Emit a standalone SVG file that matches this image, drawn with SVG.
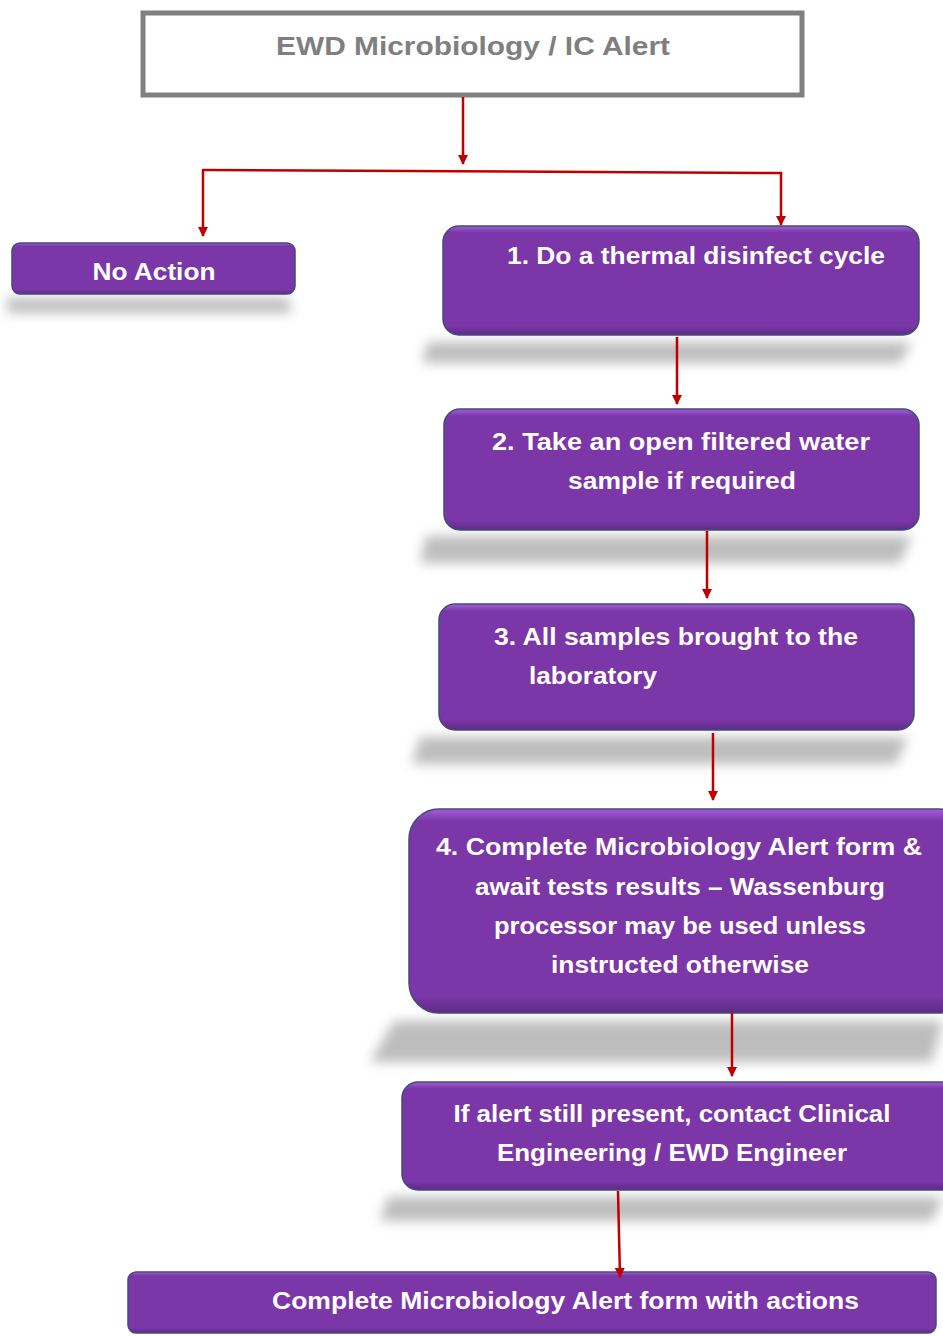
<svg xmlns="http://www.w3.org/2000/svg" width="943" height="1336" viewBox="0 0 943 1336">
<defs>
  <linearGradient id="pg" x1="0" y1="0" x2="0" y2="1">
    <stop offset="0" stop-color="#a35fd6"/>
    <stop offset="0.06" stop-color="#7b36a8"/>
    <stop offset="0.92" stop-color="#7b36a8"/>
    <stop offset="1" stop-color="#5e2a86"/>
  </linearGradient>
  <filter id="blur" x="-20%" y="-200%" width="140%" height="500%">
    <feGaussianBlur stdDeviation="6"/>
  </filter>
  <marker id="ah" viewBox="0 0 10 10" refX="9" refY="5" markerWidth="10" markerHeight="10" markerUnits="userSpaceOnUse" orient="auto">
    <path d="M0,0 L10,5 L0,10 z" fill="#c00000"/>
  </marker>
  <style>
    .box{fill:url(#pg);stroke:#3f4d78;stroke-width:1.5}
    .sh{fill:#bdbdbd;filter:url(#blur)}
    .t{font-family:"Liberation Sans",Arial,sans-serif;font-weight:bold;font-size:24px;fill:#ffffff}
    .c{stroke:#c00000;stroke-width:2.5;fill:none}
  </style>
</defs>
<rect width="943" height="1336" fill="#ffffff"/>

<g id="top">
  <rect x="143" y="13" width="659" height="82" fill="#ffffff" stroke="#808080" stroke-width="5"/>
  <text x="473" y="55" text-anchor="middle" font-family="Liberation Sans, Arial, sans-serif" font-weight="bold" font-size="26" fill="#7f7f7f" textLength="394" lengthAdjust="spacingAndGlyphs">EWD Microbiology / IC Alert</text>
</g>

<g id="no-action">
  <path class="sh" d="M6,298 L288,298 L292,313 L8,313 z"/>
  <rect class="box" x="12" y="243" width="283" height="51" rx="8"/>
  <text class="t" x="154" y="280" text-anchor="middle" textLength="123" lengthAdjust="spacingAndGlyphs">No Action</text>
</g>

<g id="step1">
  <path class="sh" d="M428,342 L912,342 L900,363 L422,363 z"/>
  <rect class="box" x="443" y="226" width="476" height="109" rx="16"/>
  <text class="t" x="507" y="264" textLength="378" lengthAdjust="spacingAndGlyphs">1.  Do a thermal disinfect cycle</text>
</g>

<g id="step2">
  <path class="sh" d="M426,536 L912,536 L900,563 L420,563 z"/>
  <rect class="box" x="444" y="409" width="475" height="121" rx="16"/>
  <text class="t" x="681" y="450" text-anchor="middle" textLength="378" lengthAdjust="spacingAndGlyphs">2. Take an open filtered water</text>
  <text class="t" x="682" y="489" text-anchor="middle" textLength="228" lengthAdjust="spacingAndGlyphs">sample if required</text>
</g>

<g id="step3">
  <path class="sh" d="M420,737 L908,737 L896,764 L412,764 z"/>
  <rect class="box" x="439" y="604" width="475" height="126" rx="16"/>
  <text class="t" x="494" y="645" textLength="364" lengthAdjust="spacingAndGlyphs">3.  All samples brought to the</text>
  <text class="t" x="529" y="684" textLength="128" lengthAdjust="spacingAndGlyphs">laboratory</text>
</g>

<g id="step4">
  <path class="sh" d="M394,1021 L943,1021 L932,1062 L370,1062 z"/>
  <rect class="box" x="409" y="809" width="560" height="204" rx="30"/>
  <text class="t" x="679" y="855" text-anchor="middle" textLength="486" lengthAdjust="spacingAndGlyphs">4. Complete Microbiology  Alert form &amp;</text>
  <text class="t" x="680" y="895" text-anchor="middle" textLength="410" lengthAdjust="spacingAndGlyphs">await tests results – Wassenburg</text>
  <text class="t" x="680" y="934" text-anchor="middle" textLength="372" lengthAdjust="spacingAndGlyphs">processor may be used unless</text>
  <text class="t" x="680" y="973" text-anchor="middle" textLength="258" lengthAdjust="spacingAndGlyphs">instructed otherwise</text>
</g>

<g id="step5">
  <path class="sh" d="M388,1197 L943,1197 L932,1221 L380,1221 z"/>
  <rect class="box" x="402" y="1082" width="560" height="108" rx="16"/>
  <text class="t" x="672" y="1122" text-anchor="middle" textLength="437" lengthAdjust="spacingAndGlyphs">If alert still present, contact Clinical</text>
  <text class="t" x="672" y="1161" text-anchor="middle" textLength="350" lengthAdjust="spacingAndGlyphs">Engineering / EWD Engineer</text>
</g>

<g id="final">
  <rect class="box" x="128" y="1272" width="808" height="61" rx="8"/>
  <text class="t" x="272" y="1309" textLength="587" lengthAdjust="spacingAndGlyphs">Complete Microbiology Alert form with actions</text>
</g>

<g id="connectors">
  <line class="c" x1="463" y1="97" x2="463" y2="164" marker-end="url(#ah)"/>
  <polyline class="c" points="203,170 781,173 781,225" marker-end="url(#ah)"/>
  <line class="c" x1="203" y1="169" x2="203" y2="236" marker-end="url(#ah)"/>
  <line class="c" x1="677" y1="337" x2="677" y2="404" marker-end="url(#ah)"/>
  <line class="c" x1="707" y1="531" x2="707" y2="598" marker-end="url(#ah)"/>
  <line class="c" x1="713" y1="733" x2="713" y2="800" marker-end="url(#ah)"/>
  <line class="c" x1="732" y1="1013" x2="732" y2="1076" marker-end="url(#ah)"/>
  <line class="c" x1="618" y1="1191" x2="620" y2="1277" marker-end="url(#ah)"/>
</g>
</svg>
